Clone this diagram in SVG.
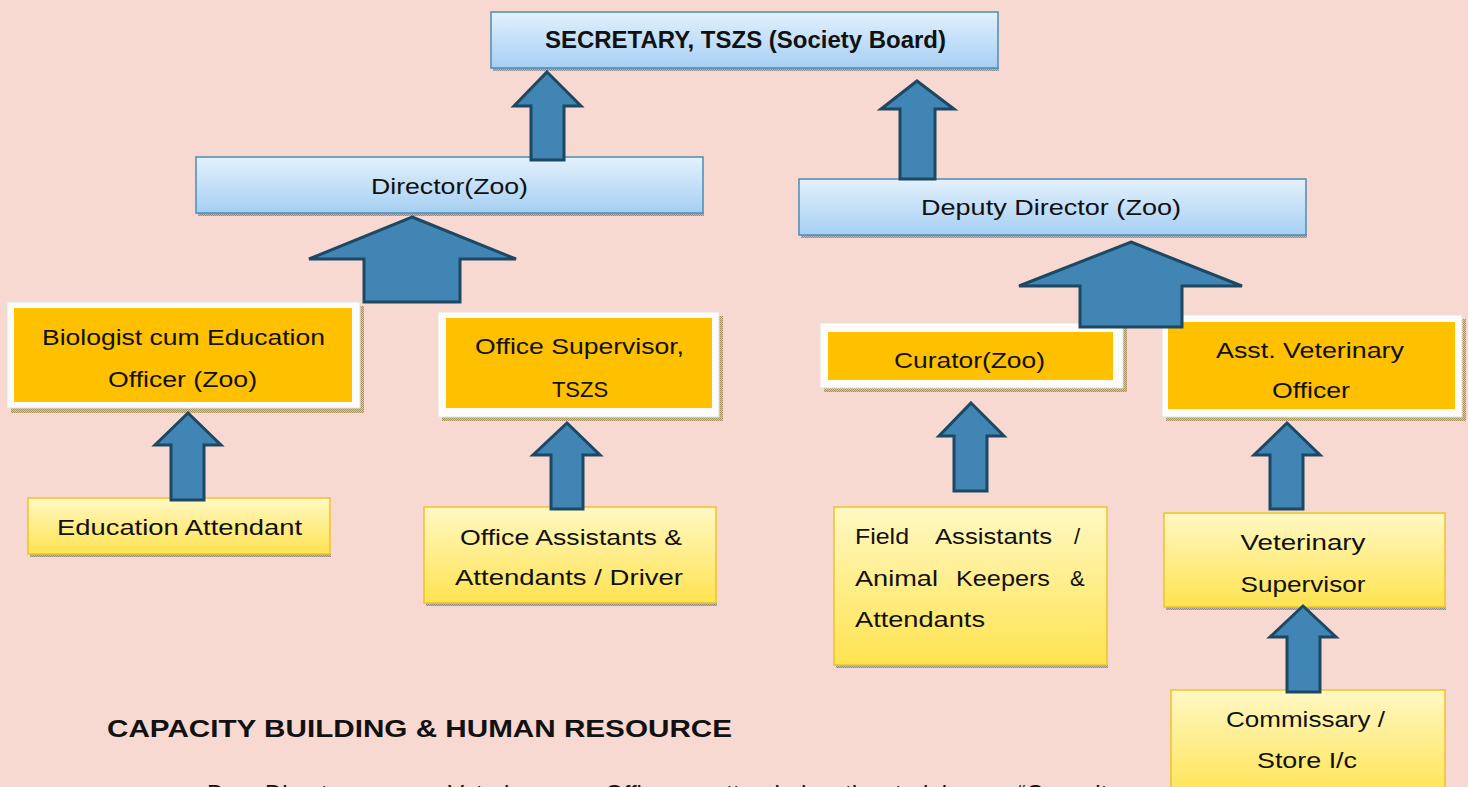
<svg xmlns="http://www.w3.org/2000/svg" width="1468" height="787" viewBox="0 0 1468 787">
<defs>
<linearGradient id="gBlue" x1="0" y1="0" x2="0" y2="1"><stop offset="0" stop-color="#E3F1FC"/><stop offset="1" stop-color="#A6CFF4"/></linearGradient>
<linearGradient id="gYel" x1="0" y1="0" x2="0" y2="1"><stop offset="0" stop-color="#FFF8C4"/><stop offset="1" stop-color="#FFE350"/></linearGradient>
<pattern id="pGray" width="2" height="2" patternUnits="userSpaceOnUse"><rect width="2" height="2" fill="#C9B9B4"/><rect width="1" height="1" fill="#8A8A8A"/><rect x="1" y="1" width="1" height="1" fill="#8A8A8A"/></pattern>
<pattern id="pTan" width="2" height="2" patternUnits="userSpaceOnUse"><rect width="2" height="2" fill="#D8C8A0"/><rect width="1" height="1" fill="#A8925E"/><rect x="1" y="1" width="1" height="1" fill="#A8925E"/></pattern>
<style>
.blue{fill:url(#gBlue);stroke:#4A8DB5;stroke-width:1.5}
.yel{fill:url(#gYel);stroke:#EDC22A;stroke-width:1.5}
.frame{fill:#FCFCFA;stroke:#E2E2DC;stroke-width:1}
.org{fill:#FFC000}
.sg{fill:url(#pGray)}
.st{fill:url(#pTan)}
.t{font-family:"Liberation Sans",Arial,sans-serif;font-size:22px;fill:#111;text-anchor:middle}
.tl{font-family:"Liberation Sans",Arial,sans-serif;font-size:22px;fill:#111}
.tb{font-family:"Liberation Sans",Arial,sans-serif;font-size:23px;font-weight:bold;fill:#111;text-anchor:middle}
.cap{font-family:"Liberation Sans",Arial,sans-serif;font-size:24px;font-weight:bold;fill:#111}
.body{font-family:"Liberation Sans",Arial,sans-serif;font-size:24px;fill:#111}
.arr{fill:#4085B3;stroke:#1D4863;stroke-width:3;stroke-linejoin:miter}
</style>
</defs>
<rect width="1468" height="787" fill="#F8D9D1"/>

<g id="secretary">
<rect class="sg" x="493" y="67" width="506" height="4"/>
<rect class="blue" x="491" y="12" width="507" height="56"/>
<text class="tb" x="745.5" y="48" textLength="401" lengthAdjust="spacingAndGlyphs">SECRETARY, TSZS (Society Board)</text>
</g>
<g id="director">
<rect class="sg" x="198" y="212" width="506" height="4"/>
<rect class="blue" x="196" y="157" width="507" height="56"/>
<text class="t" x="449.5" y="194" textLength="157" lengthAdjust="spacingAndGlyphs">Director(Zoo)</text>
</g>
<g id="deputy">
<rect class="sg" x="801" y="234" width="506" height="4"/>
<rect class="blue" x="799" y="179" width="507" height="56"/>
<text class="t" x="1051" y="215" textLength="260" lengthAdjust="spacingAndGlyphs">Deputy Director (Zoo)</text>
</g>

<g id="biologist">
<rect class="st" x="11" y="306" width="353" height="107"/>
<rect class="frame" x="7" y="302" width="353" height="106"/>
<rect class="org" x="14" y="308" width="338" height="94"/>
<text class="t" x="183.5" y="345" textLength="283" lengthAdjust="spacingAndGlyphs">Biologist cum Education</text>
<text class="t" x="182.5" y="387" textLength="149" lengthAdjust="spacingAndGlyphs">Officer (Zoo)</text>
</g>
<g id="officeSupervisor">
<rect class="st" x="442" y="316" width="281" height="105"/>
<rect class="frame" x="438" y="312" width="281" height="105"/>
<rect class="org" x="446" y="318" width="266" height="90"/>
<text class="t" x="579.5" y="354" textLength="209" lengthAdjust="spacingAndGlyphs">Office Supervisor,</text>
<text class="t" x="580" y="397">TSZS</text>
</g>
<g id="curator">
<rect class="st" x="824" y="327" width="303" height="65"/>
<rect class="frame" x="820" y="323" width="303" height="65"/>
<rect class="org" x="828" y="332" width="285" height="48"/>
<text class="t" x="969.5" y="368" textLength="151" lengthAdjust="spacingAndGlyphs">Curator(Zoo)</text>
</g>
<g id="asstVet">
<rect class="st" x="1166" y="319" width="300" height="102"/>
<rect class="frame" x="1162" y="315" width="300" height="102"/>
<rect class="org" x="1168" y="322" width="287" height="87"/>
<text class="t" x="1310" y="358" textLength="188" lengthAdjust="spacingAndGlyphs">Asst. Veterinary</text>
<text class="t" x="1311" y="398" textLength="78" lengthAdjust="spacingAndGlyphs">Officer</text>
</g>

<g id="eduAttendant">
<rect class="sg" x="30" y="553" width="301" height="4"/>
<rect class="yel" x="28" y="498" width="302" height="56"/>
<text class="t" x="179.5" y="535" textLength="245" lengthAdjust="spacingAndGlyphs">Education Attendant</text>
</g>
<g id="officeAssistants">
<rect class="sg" x="426" y="602" width="291" height="4"/>
<rect class="yel" x="424" y="507" width="292" height="96"/>
<text class="t" x="571" y="545" textLength="222" lengthAdjust="spacingAndGlyphs">Office Assistants &amp;</text>
<text class="t" x="569" y="585" textLength="228" lengthAdjust="spacingAndGlyphs">Attendants / Driver</text>
</g>
<g id="fieldAssistants">
<rect class="sg" x="836" y="664" width="272" height="4"/>
<rect class="yel" x="834" y="507" width="273" height="158"/>
<text class="tl" y="544"><tspan x="855" textLength="54" lengthAdjust="spacingAndGlyphs">Field</tspan><tspan x="935" textLength="117" lengthAdjust="spacingAndGlyphs">Assistants</tspan><tspan x="1074">/</tspan></text>
<text class="tl" y="586"><tspan x="855" textLength="83" lengthAdjust="spacingAndGlyphs">Animal</tspan><tspan x="956" textLength="94" lengthAdjust="spacingAndGlyphs">Keepers</tspan><tspan x="1070">&amp;</tspan></text>
<text class="tl" x="855" y="627" textLength="130" lengthAdjust="spacingAndGlyphs">Attendants</text>
</g>
<g id="vetSupervisor">
<rect class="sg" x="1166" y="606" width="280" height="4"/>
<rect class="yel" x="1164" y="513" width="281" height="94"/>
<text class="t" x="1303" y="550" textLength="125" lengthAdjust="spacingAndGlyphs">Veterinary</text>
<text class="t" x="1303" y="592" textLength="125" lengthAdjust="spacingAndGlyphs">Supervisor</text>
</g>
<g id="commissary">
<rect class="yel" x="1171" y="690" width="274" height="110"/>
<text class="t" x="1305.5" y="727" textLength="159" lengthAdjust="spacingAndGlyphs">Commissary /</text>
<text class="t" x="1307" y="768" textLength="100" lengthAdjust="spacingAndGlyphs">Store I/c</text>
</g>

<g id="connectors">
<polygon class="arr" points="547,72 581,106 564,106 564,160 531,160 531,106 514,106"/>
<polygon class="arr" points="917,81 954,109 935,109 935,179 900,179 900,109 881,109"/>
<polygon class="arr" points="412,217 516,259 460,259 460,302 364,302 364,259 309,259"/>
<polygon class="arr" points="1131,242 1242,286 1182,286 1182,327 1080,327 1080,286 1019,286"/>
<polygon class="arr" points="188,413 221,445 204,445 204,500 171,500 171,445 155,445"/>
<polygon class="arr" points="567,423 600,455 583,455 583,509 551,509 551,455 533,455"/>
<polygon class="arr" points="971,403 1004,436 987,436 987,491 954,491 954,436 939,436"/>
<polygon class="arr" points="1287,423 1320,455 1303,455 1303,509 1270,509 1270,455 1254,455"/>
<polygon class="arr" points="1303,606 1336,637 1320,637 1320,692 1287,692 1287,637 1270,637"/>
</g>

<text class="cap" x="107" y="737" textLength="625" lengthAdjust="spacingAndGlyphs">CAPACITY BUILDING &amp; HUMAN RESOURCE</text>
<text class="body" y="802"><tspan x="207">Dy.</tspan><tspan x="265">Director</tspan><tspan x="448">Veterinary</tspan><tspan x="605">Officer</tspan><tspan x="713">attended</tspan><tspan x="845">the</tspan><tspan x="895">training</tspan><tspan x="985">on</tspan><tspan x="1018">“Capacity</tspan></text>
</svg>
